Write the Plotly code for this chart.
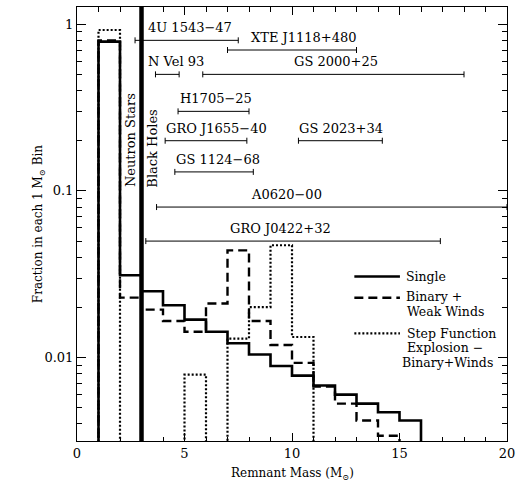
import math
import plotly.graph_objects as go

# Fraction of remnants in each 1 Msun bin; bins begin at 1 Msun
single = [0.786, 0.0312, 0.0250, 0.0206, 0.0169, 0.0143, 0.0122, 0.01045,
          0.0089, 0.0078, 0.0068, 0.0060, 0.0053, 0.0047, 0.0042]
binary_weak_winds = [0.80, 0.0229, 0.0194, 0.0166, 0.0143, 0.0211, 0.0440,
                     0.0166, 0.0119, 0.0093, 0.0067, 0.0053, 0.0042, 0.0034]
step_function = [0.923, 0, 0, 0, 0.0079, 0, 0.0130, 0.0201, 0.0472, 0.0133]
first_bin = 1

# Measured black-hole mass ranges (Msun) and the row each one is drawn on
bh_names = ["4U 1543−47", "XTE J1118+480", "N Vel 93", "GS 2000+25",
            "H1705−25", "GRO J1655−40", "GS 2023+34", "GS 1124−68",
            "A0620−00", "GRO J0422+32"]
bh_low = [2.7, 7.0, 3.65, 5.85, 4.7, 4.1, 10.3, 4.55, 3.7, 3.2]
bh_high = [7.5, 13.0, 4.75, 18.0, 8.0, 7.9, 14.2, 8.2, 20.0, 16.9]
bh_row = [0.8, 0.7, 0.5, 0.5, 0.3, 0.2, 0.2, 0.13, 0.08, 0.05]

# Where each name starts along the mass axis
label_x = [3.2, 8.0, 3.2, 10.0, 4.7, 4.05, 10.25, 4.5, 8.0, 7.0]

ns_bh_boundary = 3.0
FONT = "DejaVu Serif"
FLOOR = 1e-5  # empty bins fall well below the plotted range


def step_outline(values, start):
    xs, ys = [start], [FLOOR]
    for i, v in enumerate(values):
        v = v if v > 0 else FLOOR
        xs += [start + i, start + i + 1]
        ys += [v, v]
    xs.append(start + len(values))
    ys.append(FLOOR)
    return xs, ys


fig = go.Figure()

styles = [
    (single, dict(color="black", width=2.6, dash="solid")),
    (binary_weak_winds, dict(color="black", width=2.4, dash="9px,5px")),
    (step_function, dict(color="black", width=2.2, dash="2px,2px")),
]
for vals, line in styles:
    xs, ys = step_outline(vals, first_bin)
    fig.add_trace(go.Scatter(x=xs, y=ys, mode="lines", line=line,
                             hoverinfo="skip", showlegend=False))

# Horizontal mass ranges with end caps
for lo, hi, row in zip(bh_low, bh_high, bh_row):
    mid = 0.5 * (lo + hi)
    fig.add_trace(go.Scatter(
        x=[mid], y=[row], mode="markers",
        marker=dict(size=1, color="rgba(0,0,0,0)"),
        error_x=dict(type="data", symmetric=False, array=[hi - mid],
                     arrayminus=[mid - lo], width=3, thickness=1,
                     color="black"),
        hoverinfo="skip", showlegend=False))

annotations = []
for name, lx, row in zip(bh_names, label_x, bh_row):
    annotations.append(dict(
        x=lx, y=math.log10(row), xref="x", yref="y", text=name,
        showarrow=False, xanchor="left", yanchor="middle", yshift=12.5,
        font=dict(family=FONT, size=13, color="black")))

# Neutron star / black hole divide
fig.add_shape(type="line", xref="x", yref="paper", x0=ns_bh_boundary,
              x1=ns_bh_boundary, y0=0, y1=1,
              line=dict(color="black", width=4.5))
annotations.append(dict(x=2.49, y=-0.698, xref="x", yref="y",
                        text="Neutron Stars", textangle=-90, showarrow=False,
                        font=dict(family=FONT, size=13, color="black")))
annotations.append(dict(x=3.47, y=-0.749, xref="x", yref="y",
                        text="Black Holes", textangle=-90, showarrow=False,
                        font=dict(family=FONT, size=13, color="black")))

# Key
key_lines = [(0.379, "solid", 2.6), (0.330, "9px,5px", 2.4),
             (0.248, "2px,2px", 2.2)]
for ky, dash, w in key_lines:
    fig.add_shape(type="line", xref="paper", yref="paper", x0=0.645,
                  x1=0.751, y0=ky, y1=ky,
                  line=dict(color="black", width=w, dash=dash))
key_text = [("Single", 0.760, 0.379), ("Binary +", 0.760, 0.332),
            ("Weak Winds", 0.762, 0.298), ("Step Function", 0.762, 0.248),
            ("Explosion −", 0.762, 0.215), ("Binary+Winds", 0.751, 0.181)]
for txt, kx, ky in key_text:
    annotations.append(dict(x=kx, y=ky, xref="paper", yref="paper", text=txt,
                            showarrow=False, xanchor="left",
                            yanchor="middle",
                            font=dict(family=FONT, size=12.5, color="black")))

# Axis titles
annotations.append(dict(x=0.5, y=-0.075, xref="paper", yref="paper",
                        text="Remnant Mass (M<sub>⊙</sub>)", showarrow=False,
                        xanchor="center", yanchor="middle",
                        font=dict(family=FONT, size=12, color="black")))
annotations.append(dict(x=-0.088, y=0.5, xref="paper", yref="paper",
                        text="Fraction in each 1 M<sub>⊙</sub> Bin",
                        textangle=-90, showarrow=False,
                        xanchor="center", yanchor="middle",
                        font=dict(family=FONT, size=12, color="black")))

fig.update_layout(
    width=521, height=481,
    margin=dict(l=77, r=9, t=6, b=40),
    paper_bgcolor="white", plot_bgcolor="white",
    annotations=annotations,
    font=dict(family=FONT, size=13, color="black"),
)
fig.update_xaxes(
    range=[0, 20], dtick=5, tick0=0, showgrid=False, zeroline=False,
    showline=True, linecolor="black", linewidth=1, mirror="ticks",
    ticks="inside", ticklen=8, tickwidth=1, tickcolor="black",
    minor=dict(dtick=1, ticks="inside", ticklen=4.5, tickcolor="black",
               showgrid=False),
    tickfont=dict(family=FONT, size=13, color="black"),
)
fig.update_yaxes(
    type="log", range=[-2.5, 0.103], dtick=1, showgrid=False,
    zeroline=False, showline=True, linecolor="black", linewidth=1,
    mirror="ticks", ticks="inside", ticklen=9, tickwidth=1,
    tickcolor="black",
    minor=dict(dtick="D1", ticks="inside", ticklen=5, tickcolor="black",
               showgrid=False),
    tickfont=dict(family=FONT, size=13, color="black"),
)

fig.write_html("out.html")
